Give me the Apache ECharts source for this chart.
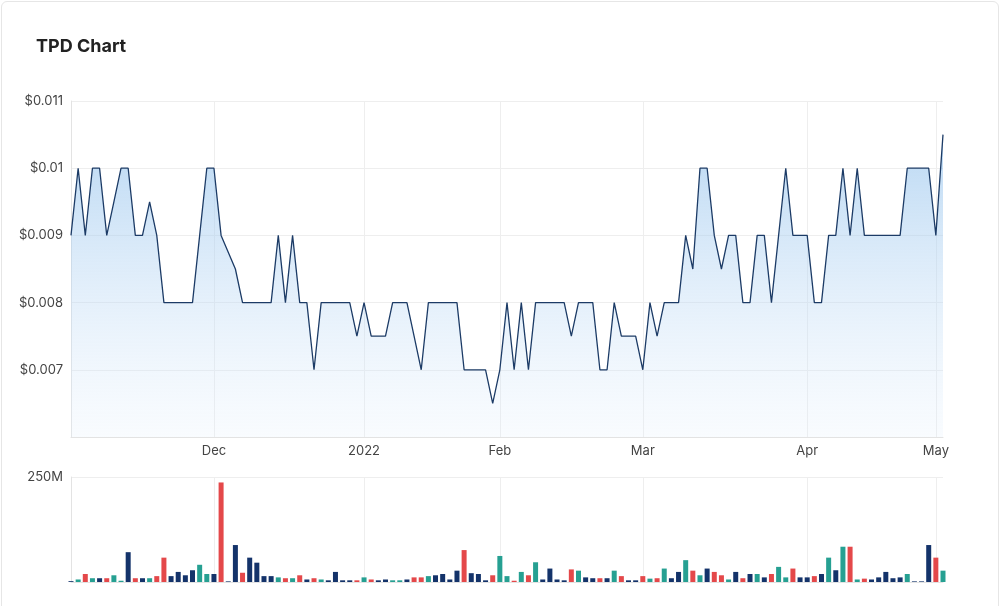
<!DOCTYPE html>
<html>
<head>
<meta charset="UTF-8">
<title>TPD Chart</title>
<script src="https://cdn.jsdelivr.net/npm/echarts@6/dist/echarts.min.js"></script>
<style>
    body { margin: 0; background: #fff; font-family: Inter, "Noto Sans", sans-serif; }
    #card { position: absolute; left: 1px; top: 1px; width: 996px; height: 620px; border: 1px solid #e6e6e6; border-radius: 6px; }
    #chart { width: 1000px; height: 606px; position: absolute; left: 0; top: 0; }
</style>
</head>
<body>
<div id="card"></div>
<div id="chart"></div>
<script>
    // 价格 (trading days, Nov 2021 - May 2022)
    var prices = [
        0.009, 0.010, 0.009, 0.010, 0.010, 0.009, 0.0095, 0.010, 0.010, 0.009,
        0.009, 0.0095, 0.009, 0.008, 0.008, 0.008, 0.008, 0.008, 0.009, 0.010,
        0.010, 0.009, 0.00875, 0.0085, 0.008, 0.008, 0.008, 0.008, 0.008, 0.009,
        0.008, 0.009, 0.008, 0.008, 0.007, 0.008, 0.008, 0.008, 0.008, 0.008,
        0.0075, 0.008, 0.0075, 0.0075, 0.0075, 0.008, 0.008, 0.008, 0.0075, 0.007,
        0.008, 0.008, 0.008, 0.008, 0.008, 0.007, 0.007, 0.007, 0.007, 0.0065,
        0.007, 0.008, 0.007, 0.008, 0.007, 0.008, 0.008, 0.008, 0.008, 0.008,
        0.0075, 0.008, 0.008, 0.008, 0.007, 0.007, 0.008, 0.0075, 0.0075, 0.0075,
        0.007, 0.008, 0.0075, 0.008, 0.008, 0.008, 0.009, 0.0085, 0.010, 0.010,
        0.009, 0.0085, 0.009, 0.009, 0.008, 0.008, 0.009, 0.009, 0.008, 0.009,
        0.010, 0.009, 0.009, 0.009, 0.008, 0.008, 0.009, 0.009, 0.010, 0.009,
        0.010, 0.009, 0.009, 0.009, 0.009, 0.009, 0.009, 0.010, 0.010, 0.010,
        0.010, 0.009, 0.0105
    ];
    // 成交量 (M)
    var volumes = [
        2, 6, 19, 9, 9, 9, 16, 3, 71, 9,
        9, 9, 14, 58, 14, 24, 16, 28, 41, 19,
        19, 237, 1.5, 88, 22, 58, 46, 14, 14, 11,
        9, 9, 16, 6, 9, 6, 4, 24, 4, 4,
        4, 11, 6, 4, 6, 4, 4, 6, 11, 11,
        14, 16, 19, 6, 27, 76, 21, 19, 4, 16,
        62, 14, 3, 24, 16, 47, 6, 32, 6, 4,
        30, 27, 11, 9, 9, 9, 27, 14, 4, 4,
        14, 8, 9, 32, 9, 24, 52, 27, 16, 32,
        24, 16, 6, 24, 9, 19, 19, 11, 19, 36,
        11, 32, 11, 11, 14, 19, 58, 28, 84, 84,
        6, 8, 6, 11, 24, 9, 11, 19, 1.5, 1.5,
        88, 58, 27
    ];
    // u = 涨, d = 跌, n = 平
    var volDirs = [
        'n','u','d','u','n','d','u','u','n','d',
        'n','u','d','d','n','n','n','n','u','u',
        'n','d','n','n','d','n','n','n','n','u',
        'd','u','d','n','d','u','n','n','n','n',
        'd','u','d','n','n','u','u','n','d','d',
        'u','n','n','n','n','d','n','n','n','d',
        'u','u','d','u','d','u','n','n','n','n',
        'd','u','n','n','d','n','u','d','n','n',
        'd','u','d','u','n','n','u','d','u','n',
        'd','d','u','n','d','n','u','n','d','u',
        'u','d','n','n','d','n','u','n','u','d',
        'u','d','n','n','n','n','n','u','n','n',
        'n','d','u'
    ];
    var monthTicks = {20: 'Dec', 41: '2022', 60: 'Feb', 80: 'Mar', 103: 'Apr', 121: 'May'};
    var dirColors = {u: '#26a092', d: '#e4484a', n: '#14336a'};

    var categories = prices.map(function (v, i) { return monthTicks[i] || ''; });
    var isTick = function (i) { return monthTicks[i] !== undefined; };

    var myChart = echarts.init(document.getElementById('chart'));
    var option = {
        animation: false,
        title: {
            text: 'TPD Chart', left: 31, top: 33,
            textStyle: {fontFamily: 'Inter', fontSize: 18, fontWeight: 'bold', color: '#222'}
        },
        grid: [
            {left: 71, right: 57, top: 101, height: 336},
            {left: 71, right: 57, top: 477, height: 105}
        ],
        xAxis: [
            {
                type: 'category', gridIndex: 0, data: categories, boundaryGap: false,
                axisLine: {lineStyle: {color: '#e3e3e3'}},
                axisTick: {show: false},
                axisLabel: {interval: isTick, color: '#444', fontSize: 13, fontFamily: 'Inter', margin: 8},
                splitLine: {show: true, interval: isTick, lineStyle: {color: '#eeeeee'}}
            },
            {
                type: 'category', gridIndex: 1, data: categories, boundaryGap: false,
                axisLine: {lineStyle: {color: '#e3e3e3'}},
                axisTick: {show: false}, axisLabel: {show: false},
                splitLine: {show: true, interval: isTick, lineStyle: {color: '#eeeeee'}}
            }
        ],
        yAxis: [
            {
                type: 'value', gridIndex: 0, min: 0.006, max: 0.011, interval: 0.001,
                axisLine: {show: true, lineStyle: {color: '#e3e3e3'}},
                axisLabel: {
                    color: '#444', fontSize: 13, fontFamily: 'Inter', margin: 8,
                    formatter: function (v) { return v <= 0.0061 ? '' : '$' + (+v.toFixed(3)); }
                },
                splitLine: {lineStyle: {color: '#eeeeee'}}
            },
            {
                type: 'value', gridIndex: 1, min: 0, max: 250, interval: 250,
                axisLine: {show: true, lineStyle: {color: '#e3e3e3'}},
                axisLabel: {
                    color: '#444', fontSize: 13, fontFamily: 'Inter', margin: 8,
                    formatter: function (v) { return v === 0 ? '' : v + 'M'; }
                },
                splitLine: {lineStyle: {color: '#eeeeee'}}
            }
        ],
        series: [
            {
                type: 'line', xAxisIndex: 0, yAxisIndex: 0, data: prices,
                symbol: 'none',
                lineStyle: {color: '#1c3b66', width: 1.3},
                areaStyle: {
                    color: new echarts.graphic.LinearGradient(0, 0, 0, 1, [
                        {offset: 0, color: 'rgba(140,190,235,0.85)'},
                        {offset: 1, color: 'rgba(225,238,252,0.3)'}
                    ]),
                    origin: 'start'
                }
            },
            {
                type: 'bar', xAxisIndex: 1, yAxisIndex: 1, barWidth: 5,
                data: volumes.map(function (v, i) {
                    return {value: v, itemStyle: {color: dirColors[volDirs[i]]}};
                })
            }
        ]
    };
    myChart.setOption(option);
</script>
</body>
</html>
